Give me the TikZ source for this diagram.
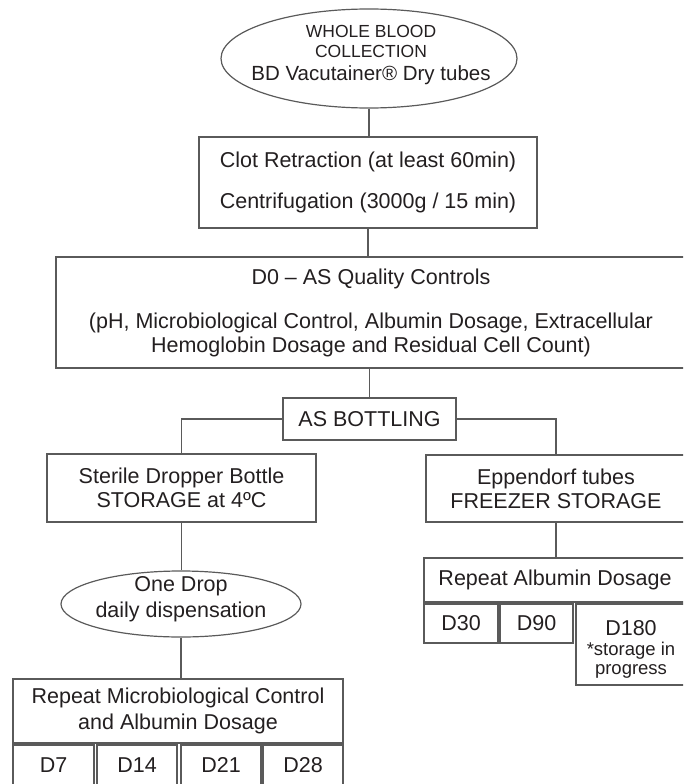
\documentclass[tikz,border=0pt]{standalone}
\usepackage{fontspec}
\setmainfont{Liberation Sans}
\usetikzlibrary{shapes.geometric}
\definecolor{inkc}{HTML}{231F20}
\definecolor{rulec}{HTML}{5A5A5A}
\begin{document}
\begin{tikzpicture}[x=1pt,y=-1pt,
  every node/.style={text=inkc, inner sep=0pt, align=center},
  stepbox/.style={draw=rulec, line width=1.2pt, rectangle, font=\fontsize{21.5}{24}\selectfont},
  oval/.style={draw=rulec, line width=1.2pt, ellipse},
  daybox/.style={stepbox, minimum height=40pt},
  link/.style={draw=rulec, line width=1.2pt}]
\useasboundingbox (0,0) rectangle (683,784);
\clip (0,0) rectangle (683,784);

% main trunk
\node[oval, minimum width=296pt, minimum height=99pt] (blood) at (369,58.5) {};
\node[font=\fontsize{17.5}{20}\selectfont] (bloodtext) at (371,55)
  {WHOLE BLOOD\\COLLECTION\\[3pt]\fontsize{20.5}{24}\selectfont BD Vacutainer® Dry tubes};
\node[stepbox, minimum width=338pt, minimum height=91pt, font=\fontsize{21.5}{41}\selectfont] (clot) at (368,182.5)
  {Clot Retraction (at least 60min)\\Centrifugation (3000g / 15 min)};
\node[stepbox, minimum width=630pt, minimum height=111pt] (qc) at (371,312.5)
  {D0 – AS Quality Controls\\[20pt](pH, Microbiological Control, Albumin Dosage, Extracellular\\Hemoglobin Dosage and Residual Cell Count)};
\node[stepbox, minimum width=173pt, minimum height=42pt] (bottling) at (369.5,419) {AS BOTTLING};

% left branch: dropper bottle
\node[stepbox, minimum width=269pt, minimum height=68pt] (sterile) at (181.5,488)
  {Sterile Dropper Bottle\\STORAGE at 4ºC};
\node[oval, minimum width=240pt, minimum height=66pt] (drop) at (181,604) {};
\node[font=\fontsize{21.5}{26}\selectfont] (droptext) at (181,599)
  {One Drop\\daily dispensation};
\node[stepbox, minimum width=330pt, minimum height=64pt, font=\fontsize{21.5}{26}\selectfont] (repeatmc) at (178,711)
  {Repeat Microbiological Control\\and Albumin Dosage};
\node[daybox, minimum width=81pt] (d7)  at (53.5,765) {D7};
\node[daybox, minimum width=80pt] (d14) at (137,765) {D14};
\node[daybox, minimum width=80pt] (d21) at (221,765) {D21};
\node[daybox, minimum width=80pt] (d28) at (303,765) {D28};

% right branch: freezer (boxes run to the right edge)
\node[stepbox, minimum width=260pt, minimum height=67pt] (eppendorf) at (556,488.5)
  {Eppendorf tubes\\FREEZER STORAGE};
\node[stepbox, minimum width=262pt, minimum height=44pt] (repeatalb) at (555,580) {Repeat Albumin Dosage};
\node[stepbox, minimum width=74pt, minimum height=39pt] (d30) at (461,623.5) {D30};
\node[stepbox, minimum width=73pt, minimum height=39pt] (d90) at (536.5,623.5) {D90};
\node[stepbox, minimum width=110pt, minimum height=81pt, font=\fontsize{18.5}{19.5}\selectfont] (d180) at (631,644.5)
  {\fontsize{21.5}{24}\selectfont\rule{0pt}{25pt}D180\\*storage in\\progress};

% connectors
\draw[link] (blood.south) -- (blood.south |- clot.north);
\draw[link] (clot.south) -- (clot.south |- qc.north);
\draw[link] (qc.south -| bottling.north) -- (bottling.north);
\draw[link] (bottling.west) -| (sterile.north);
\draw[link] (bottling.east) -| (eppendorf.north);
\draw[link] (sterile.south) -- (sterile.south |- drop.north);
\draw[link] (drop.south) -- (drop.south |- repeatmc.north);
\draw[link] (eppendorf.south) -- (eppendorf.south |- repeatalb.north);
\end{tikzpicture}
\end{document}
